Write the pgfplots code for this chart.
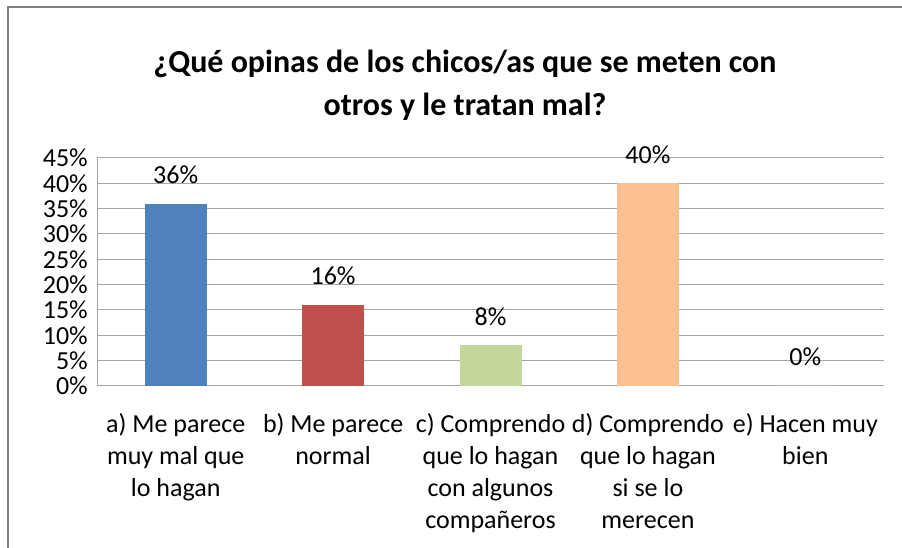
\documentclass[border=0pt]{standalone}
\usepackage{fontspec}
\setmainfont{Carlito}
\usepackage{pgfplots}
\pgfplotsset{compat=1.18}
\definecolor{cA}{HTML}{4F81BD}
\definecolor{cB}{HTML}{C0504D}
\definecolor{cC}{HTML}{C3D69B}
\definecolor{cD}{HTML}{FAC090}
\definecolor{gridc}{HTML}{A6A6A6}
\begin{document}
\begin{tikzpicture}[x=1bp,y=1bp]
\path[use as bounding box] (0,0) rectangle (902,548);
\draw[color=gray, line width=1.5bp] (8,0) -- (8,541) -- (902,541);
\node[font=\bfseries\fontsize{32bp}{40bp}\selectfont, anchor=base, inner sep=0pt] at (465,475) {¿Qué opinas de los chicos/as que se meten con};
\node[font=\bfseries\fontsize{32bp}{40bp}\selectfont, anchor=base, inner sep=0pt] at (465,432) {otros y le tratan mal?};
\begin{axis}[
  at={(97bp,162bp)}, anchor=south west,
  scale only axis, width=787bp, height=228bp,
  ymin=0, ymax=45, xmin=-0.5, xmax=4.5,
  ybar, bar shift=0pt, bar width=62bp,
  ytick={0,5,...,45},
  /pgf/number format/assume math mode=true,
  yticklabel={\pgfmathprintnumber{\tick}\%},
  yticklabel style={font=\fontsize{26bp}{30bp}\selectfont, inner sep=0pt, xshift=-9bp},
  xtick={0,...,4},
  xticklabels={{a) Me parece\\muy mal que\\lo hagan},{b) Me parece\\normal},{c) Comprendo\\que lo hagan\\con algunos\\compañeros},{d) Comprendo\\que lo hagan\\si se lo\\merecen},{e) Hacen muy\\bien}},
  xticklabel style={font=\fontsize{26bp}{32bp}\selectfont, align=center, anchor=north, inner sep=0pt, yshift=-27bp},
  major tick length=0pt,
  ymajorgrids, grid style={color=gridc, line width=1bp},
  axis x line*=bottom, axis y line*=left,
  axis line style={color=gridc, line width=1bp, -},
  nodes near coords={\pgfmathprintnumber{\pgfplotspointmeta}\%},
  nodes near coords style={font=\fontsize{26bp}{30bp}\selectfont, anchor=base, inner sep=0pt, yshift=20bp, text=black},
]
\addplot[fill=cA, draw=none] coordinates {(0,36)};
\addplot[fill=cB, draw=none] coordinates {(1,16)};
\addplot[fill=cC, draw=none] coordinates {(2,8)};
\addplot[fill=cD, draw=none] coordinates {(3,40)};
\addplot[fill=white, draw=none] coordinates {(4,0)};
\end{axis}
\end{tikzpicture}
\end{document}
